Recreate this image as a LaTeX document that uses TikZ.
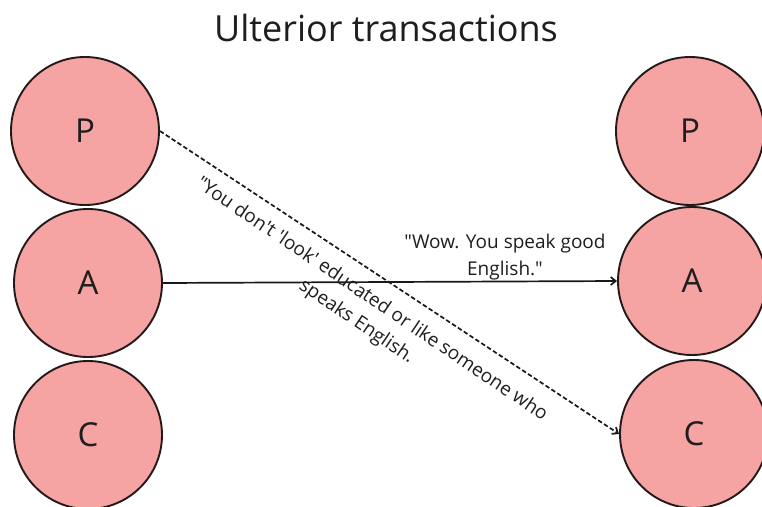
\documentclass[tikz,border=0pt]{standalone}
\usepackage{fontspec}
\setmainfont{Open Sans}
\usetikzlibrary{arrows.meta}
\definecolor{egofill}{RGB}{245,163,163}
\definecolor{egoline}{RGB}{35,25,25}
\definecolor{inktext}{RGB}{30,30,30}
\newcommand{\dq}{\textquotedbl}
\newcommand{\sq}{\textquotesingle}
\tikzset{
  x=1pt, y=1pt,
  egostate/.style={circle, draw=egoline, line width=1.9pt, fill=egofill,
    minimum size=148pt, inner sep=0pt, font=\fontsize{33}{36}\selectfont, text=inktext},
  msg/.style={draw=black!90, line width=1.7pt, -{Straight Barb[length=5pt,width=8pt]}},
  covert/.style={msg, dash pattern=on 4.5pt off 2.5pt},
  quote/.style={font=\fontsize{19}{27}\selectfont, text=inktext, align=center}
}
\begin{document}
\begin{tikzpicture}
\useasboundingbox (0,0) rectangle (762,-506);
% title
\node[font=\fontsize{36}{40}\selectfont, text=inktext] (title) at (386,-28) {Ulterior transactions};
% left ego states
\node[egostate] (lp) at (85,-131) {P};
\node[egostate] (la) at (88,-283) {A};
\node[egostate] (lc) at (88,-435) {C};
% right ego states
\node[egostate] (rp) at (690,-131) {P};
\node[egostate] (ra) at (692,-281) {A};
\node[egostate] (rc) at (694,-434) {C};
% social level: Adult to Adult
\draw[msg] (la.east) -- (ra.west);
% psychological level: Parent to Child
\draw[covert] (lp.east) -- (rc.west);
% messages
\node[quote] (social) at (505,-257) {\dq Wow. You speak good\\English.\dq};
\node[quote, rotate=-34] (hidden) at (364,-311) {\dq You don\sq t \sq look\sq{} educated or like someone who\\speaks English.};
\end{tikzpicture}
\end{document}
